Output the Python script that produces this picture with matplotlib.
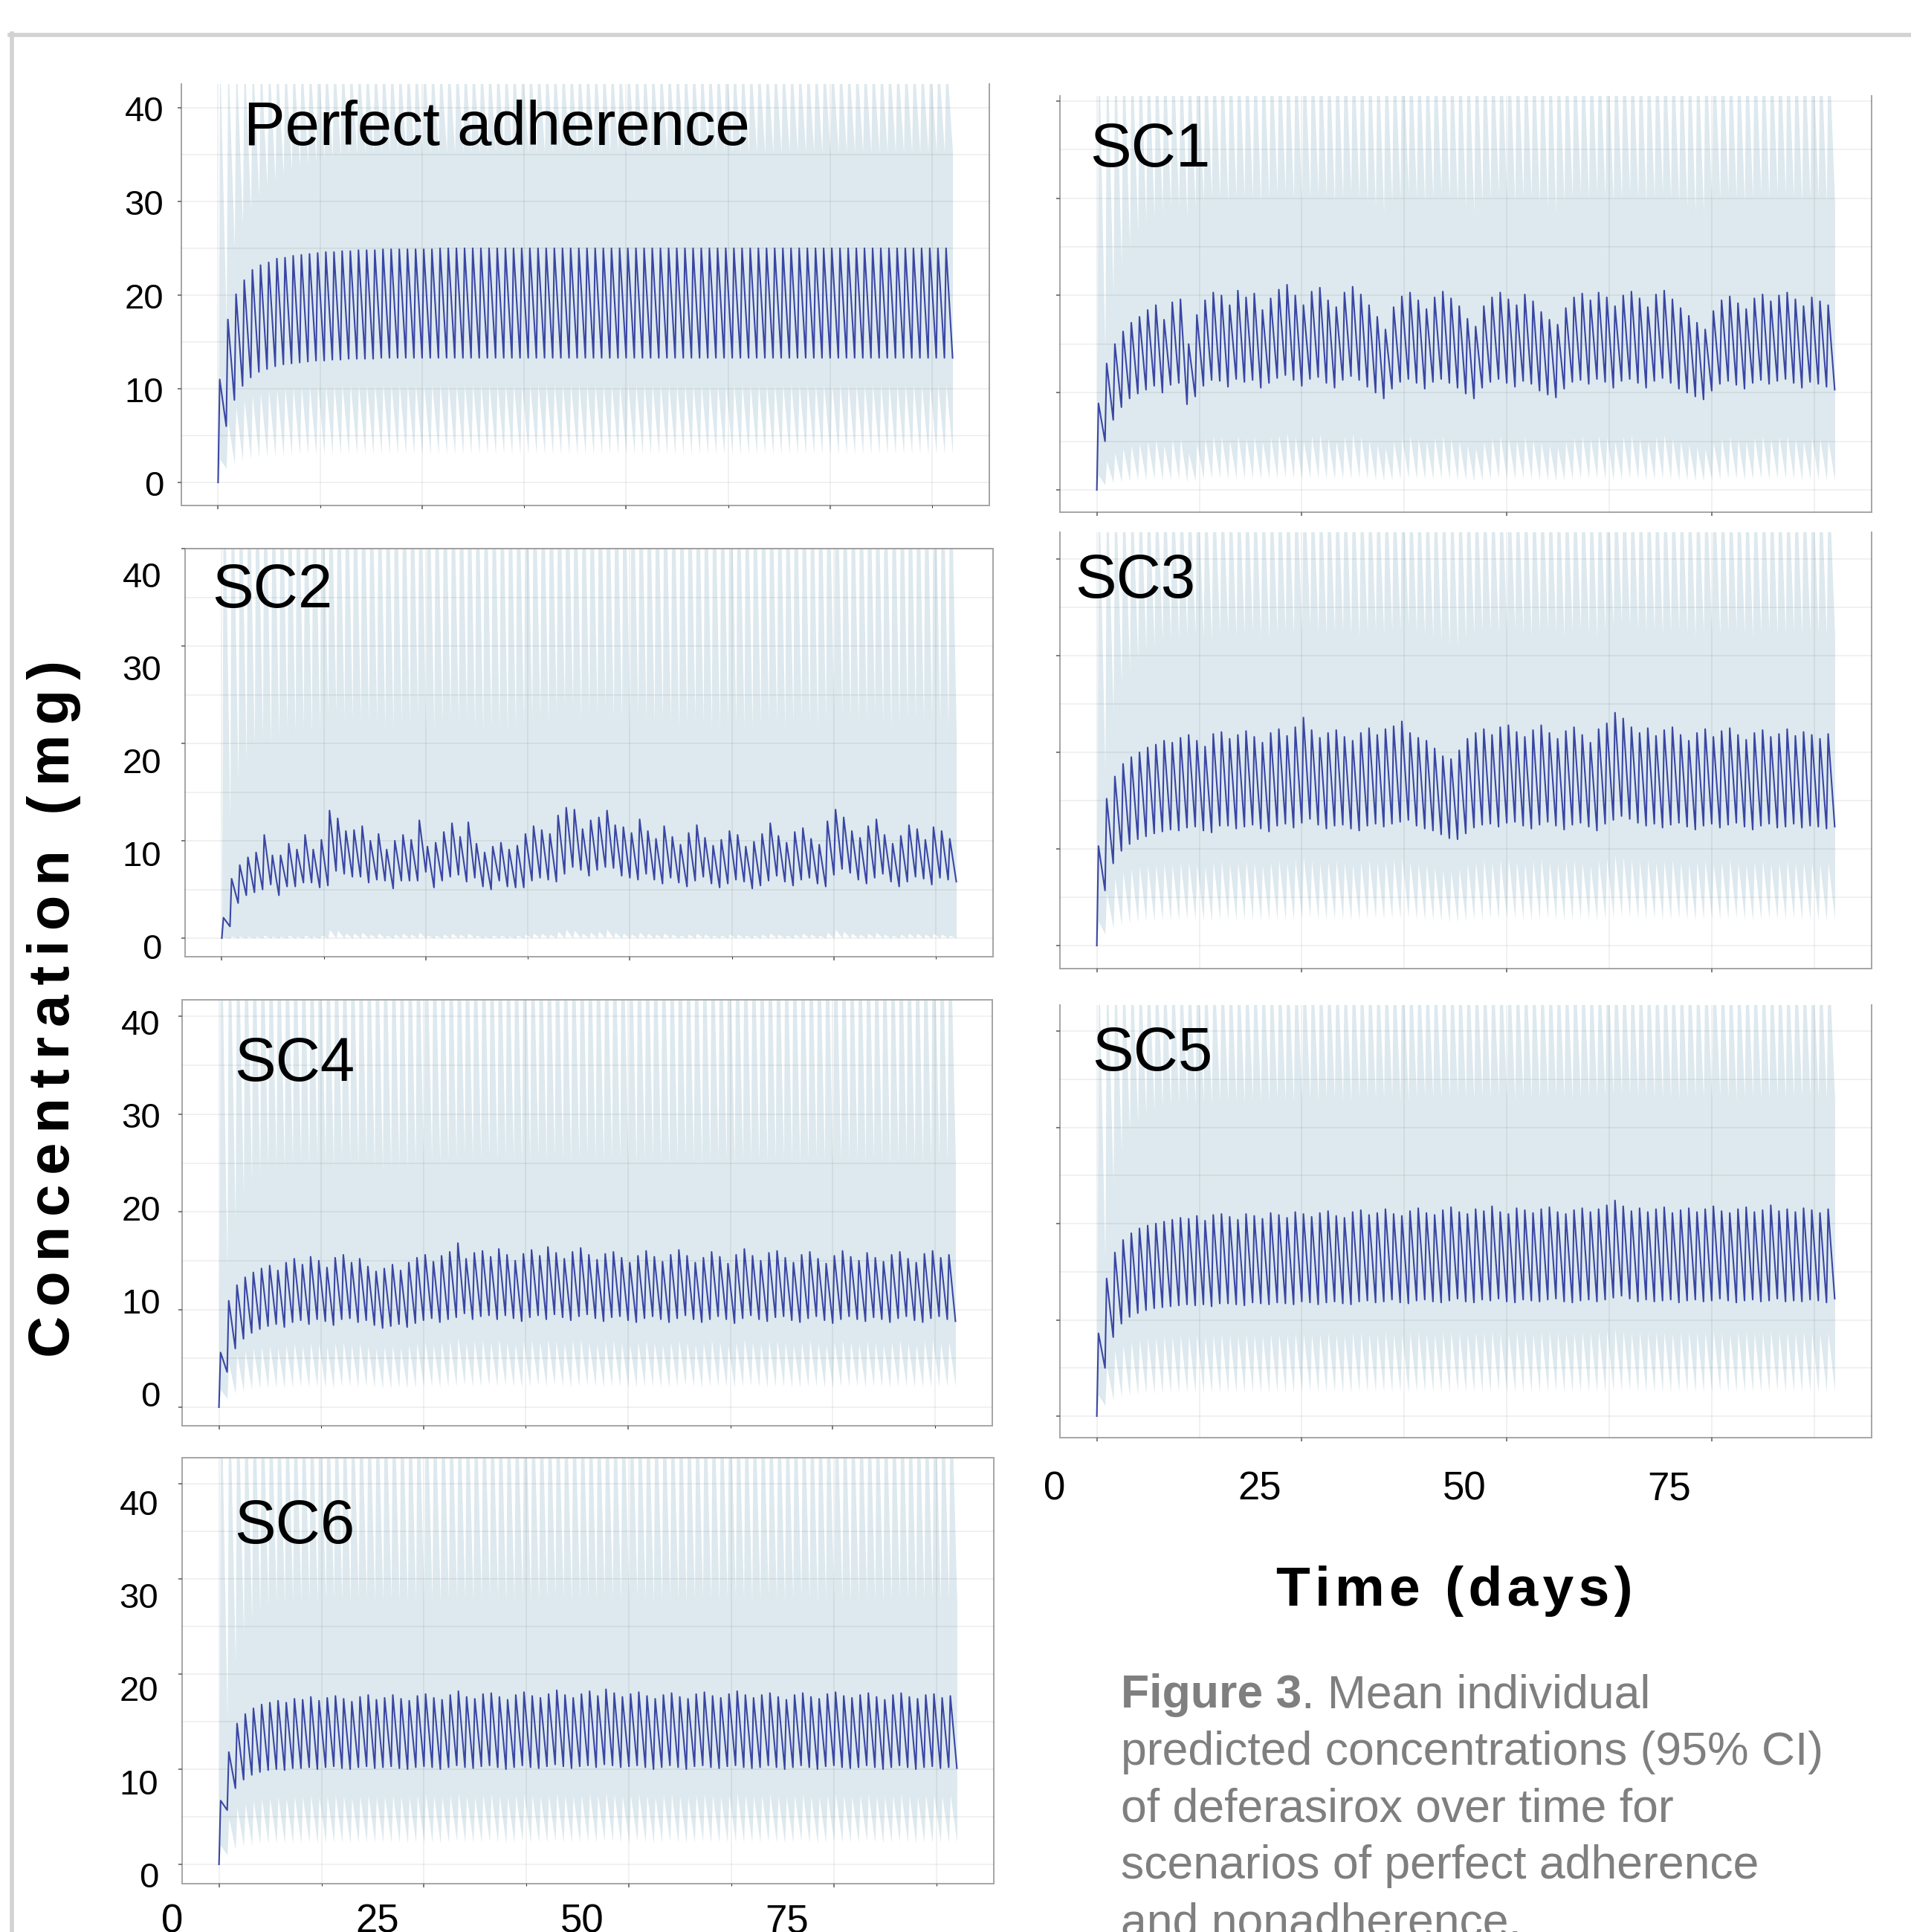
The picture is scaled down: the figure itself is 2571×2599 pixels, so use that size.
import matplotlib.pyplot as plt
import matplotlib.transforms as mtransforms
from matplotlib.lines import Line2D
from matplotlib.text import Annotation
import numpy as np

plt.rcParams['font.family'] = ['Liberation Sans', 'DejaVu Sans']

# one dose per day, 90 days; each day: trough at dose time, peak t_max later
days = np.arange(90)
t_max = 0.2

# ---- Perfect adherence ----
pa_peak = [11.0, 17.4, 20.1, 21.6, 22.7, 23.2, 23.5, 23.9, 24.0, 24.2,
           24.3, 24.4, 24.5, 24.6, 24.6, 24.7, 24.7, 24.8, 24.8, 24.8,
           24.9, 24.9, 24.9, 24.9, 24.9, 24.9, 24.9, 25.0, 25.0, 25.0,
           25.0, 25.0, 25.0, 25.0, 25.0, 25.0, 25.0, 25.0, 25.0, 25.0,
           25.0, 25.0, 25.0, 25.0, 25.0, 25.0, 25.0, 25.0, 25.0, 25.0,
           25.0, 25.0, 25.0, 25.0, 25.0, 25.0, 25.0, 25.0, 25.0, 25.0,
           25.0, 25.0, 25.0, 25.0, 25.0, 25.0, 25.0, 25.0, 25.0, 25.0,
           25.0, 25.0, 25.0, 25.0, 25.0, 25.0, 25.0, 25.0, 25.0, 25.0,
           25.0, 25.0, 25.0, 25.0, 25.0, 25.0, 25.0, 25.0, 25.0, 25.0]
pa_trough = [0.0, 6.0, 8.8, 10.3, 11.2, 11.8, 12.1, 12.4, 12.6, 12.7,
             12.8, 12.9, 13.0, 13.0, 13.1, 13.1, 13.2, 13.2, 13.2, 13.2,
             13.3, 13.3, 13.3, 13.3, 13.3, 13.3, 13.3, 13.3, 13.3, 13.3,
             13.3, 13.3, 13.3, 13.3, 13.3, 13.3, 13.3, 13.3, 13.3, 13.3,
             13.3, 13.3, 13.3, 13.3, 13.3, 13.3, 13.3, 13.3, 13.3, 13.3,
             13.3, 13.3, 13.3, 13.3, 13.3, 13.3, 13.3, 13.3, 13.3, 13.3,
             13.3, 13.3, 13.3, 13.3, 13.3, 13.3, 13.3, 13.3, 13.3, 13.3,
             13.3, 13.3, 13.3, 13.3, 13.3, 13.3, 13.3, 13.3, 13.3, 13.3,
             13.3, 13.3, 13.3, 13.3, 13.3, 13.3, 13.3, 13.3, 13.3, 13.3,
             13.3]
pa_up = [0.0, 17.0, 25.0, 27.5, 29.0, 30.5, 31.5, 32.2, 32.8, 33.3,
         33.7, 34.0, 34.3, 34.5, 34.7, 34.9, 35.0, 35.0, 35.1, 35.1,
         35.2, 35.2, 35.2, 35.2, 35.2, 35.2, 35.2, 35.2, 35.2, 35.2,
         35.2, 35.2, 35.2, 35.2, 35.2, 35.2, 35.2, 35.2, 35.2, 35.2,
         35.2, 35.2, 35.2, 35.2, 35.2, 35.2, 35.2, 35.2, 35.2, 35.2,
         35.2, 35.2, 35.2, 35.2, 35.2, 35.2, 35.2, 35.2, 35.2, 35.2,
         35.2, 35.2, 35.2, 35.2, 35.2, 35.2, 35.2, 35.2, 35.2, 35.2,
         35.2, 35.2, 35.2, 35.2, 35.2, 35.2, 35.2, 35.2, 35.2, 35.2,
         35.2, 35.2, 35.2, 35.2, 35.2, 35.2, 35.2, 35.2, 35.2, 35.2,
         35.2]
pa_up_peak = 46.0
pa_lo_peak = [2.5, 6.5, 8.0, 8.8, 9.3, 9.6, 9.8, 10.0, 10.1, 10.2,
              10.3, 10.3, 10.4, 10.4, 10.5, 10.5, 10.5, 10.5, 10.5, 10.5,
              10.5, 10.5, 10.5, 10.5, 10.5, 10.5, 10.5, 10.5, 10.5, 10.5,
              10.5, 10.5, 10.5, 10.5, 10.5, 10.5, 10.5, 10.5, 10.5, 10.5,
              10.5, 10.5, 10.5, 10.5, 10.5, 10.5, 10.5, 10.5, 10.5, 10.5,
              10.5, 10.5, 10.5, 10.5, 10.5, 10.5, 10.5, 10.5, 10.5, 10.5,
              10.5, 10.5, 10.5, 10.5, 10.5, 10.5, 10.5, 10.5, 10.5, 10.5,
              10.5, 10.5, 10.5, 10.5, 10.5, 10.5, 10.5, 10.5, 10.5, 10.5,
              10.5, 10.5, 10.5, 10.5, 10.5, 10.5, 10.5, 10.5, 10.5, 10.5]
pa_lo = [0.0, 1.5, 2.0, 2.3, 2.5, 2.6, 2.7, 2.8, 2.8, 2.9,
         2.9, 3.0, 3.0, 3.0, 3.0, 3.0, 3.0, 3.0, 3.0, 3.0,
         3.0, 3.0, 3.0, 3.0, 3.0, 3.0, 3.0, 3.0, 3.0, 3.0,
         3.0, 3.0, 3.0, 3.0, 3.0, 3.0, 3.0, 3.0, 3.0, 3.0,
         3.0, 3.0, 3.0, 3.0, 3.0, 3.0, 3.0, 3.0, 3.0, 3.0,
         3.0, 3.0, 3.0, 3.0, 3.0, 3.0, 3.0, 3.0, 3.0, 3.0,
         3.0, 3.0, 3.0, 3.0, 3.0, 3.0, 3.0, 3.0, 3.0, 3.0,
         3.0, 3.0, 3.0, 3.0, 3.0, 3.0, 3.0, 3.0, 3.0, 3.0,
         3.0, 3.0, 3.0, 3.0, 3.0, 3.0, 3.0, 3.0, 3.0, 3.0,
         3.0]

# ---- SC1 ----
sc1_peak = [8.9, 13.0, 15.0, 16.3, 17.2, 17.8, 18.5, 19.0, 17.5, 19.3,
            19.6, 15.0, 18.0, 19.5, 20.3, 20.0, 19.0, 20.5, 19.8, 20.2,
            18.5, 19.7, 20.6, 21.1, 20.0, 19.0, 20.4, 20.8, 19.5, 18.8,
            20.3, 20.9, 20.1, 19.0, 17.8, 16.5, 18.8, 19.9, 20.3, 19.5,
            18.6, 19.8, 20.4, 19.7, 18.9, 17.6, 16.8, 18.9, 19.8, 20.3,
            19.6, 19.0, 20.1, 19.4, 18.3, 17.5, 17.0, 18.7, 19.8, 20.2,
            19.5, 20.3, 19.8, 18.9, 20.0, 20.4, 19.7, 18.8, 20.1, 20.5,
            19.6, 18.7, 17.9, 17.2, 16.5, 18.4, 19.5, 19.9, 19.2, 18.6,
            19.7, 20.1, 19.4, 20.0, 20.3, 19.6, 18.9, 19.8, 19.4, 19.0]
sc1_trough = [0.0, 5.0, 7.2, 8.5, 9.4, 9.9, 10.3, 10.7, 10.0, 10.8,
              11.0, 8.8, 9.6, 10.7, 11.3, 11.2, 10.6, 11.4, 11.1, 11.3,
              10.5, 11.0, 11.5, 11.8, 11.3, 10.7, 11.4, 11.6, 11.0, 10.5,
              11.3, 11.7, 11.3, 10.6, 10.0, 9.4, 10.4, 11.1, 11.4, 11.0,
              10.4, 11.1, 11.4, 11.0, 10.5, 9.9, 9.4, 10.5, 11.1, 11.4,
              11.0, 10.6, 11.2, 10.9, 10.2, 9.8, 9.5, 10.4, 11.1, 11.3,
              10.9, 11.4, 11.1, 10.5, 11.2, 11.4, 11.0, 10.5, 11.2, 11.5,
              11.0, 10.4, 10.0, 9.6, 9.3, 10.2, 10.9, 11.2, 10.8, 10.4,
              11.0, 11.3, 10.9, 11.2, 11.4, 11.0, 10.5, 11.1, 10.9, 10.6,
              10.3]
sc1_up = [0.0, 14.0, 20.0, 23.0, 25.0, 26.5, 27.5, 28.0, 28.5, 29.0,
          29.0, 28.0, 29.0, 29.5, 30.0, 30.0, 29.5, 30.0, 30.0, 30.0,
          29.5, 30.0, 30.5, 30.5, 30.0, 29.5, 30.0, 30.5, 30.0, 29.5,
          30.0, 30.5, 30.0, 29.5, 29.0, 28.5, 29.5, 30.0, 30.5, 30.0,
          29.5, 30.0, 30.5, 30.0, 29.5, 29.0, 28.5, 29.5, 30.0, 30.5,
          30.0, 29.5, 30.0, 30.0, 29.5, 29.0, 28.5, 29.5, 30.0, 30.5,
          30.0, 30.5, 30.0, 29.5, 30.0, 30.5, 30.0, 29.5, 30.0, 30.5,
          30.0, 29.5, 29.0, 28.5, 28.5, 29.5, 30.0, 30.5, 30.0, 29.5,
          30.0, 30.5, 30.0, 30.5, 30.5, 30.0, 29.5, 30.0, 30.0, 29.5,
          29.5]
sc1_up_peak = 47.5
sc1_lo_peak = [1.5, 3.0, 3.8, 4.3, 4.6, 4.8, 5.0, 5.2, 4.6, 5.2,
               5.3, 3.8, 4.8, 5.3, 5.6, 5.5, 5.1, 5.6, 5.4, 5.5,
               5.0, 5.4, 5.7, 5.9, 5.5, 5.1, 5.6, 5.7, 5.3, 5.0,
               5.5, 5.8, 5.5, 5.1, 4.7, 4.3, 5.0, 5.4, 5.6, 5.3,
               5.0, 5.4, 5.6, 5.3, 5.0, 4.6, 4.3, 5.0, 5.4, 5.6,
               5.3, 5.1, 5.5, 5.2, 4.9, 4.6, 4.4, 5.0, 5.4, 5.6,
               5.3, 5.6, 5.4, 5.0, 5.5, 5.6, 5.3, 5.0, 5.5, 5.7,
               5.3, 5.0, 4.7, 4.4, 4.2, 4.9, 5.3, 5.5, 5.2, 5.0,
               5.4, 5.6, 5.3, 5.5, 5.6, 5.3, 5.0, 5.4, 5.3, 5.1]
sc1_lo = [0.0, 0.5, 0.7, 0.8, 0.9, 1.0, 1.0, 1.1, 1.0, 1.1,
          1.1, 0.8, 0.9, 1.1, 1.2, 1.2, 1.1, 1.2, 1.2, 1.2,
          1.1, 1.2, 1.2, 1.3, 1.2, 1.1, 1.2, 1.2, 1.1, 1.1,
          1.2, 1.2, 1.2, 1.1, 1.0, 0.9, 1.0, 1.1, 1.2, 1.1,
          1.1, 1.1, 1.2, 1.1, 1.0, 1.0, 0.9, 1.0, 1.1, 1.2,
          1.1, 1.1, 1.2, 1.1, 1.0, 1.0, 0.9, 1.0, 1.1, 1.2,
          1.1, 1.2, 1.1, 1.0, 1.1, 1.2, 1.1, 1.0, 1.1, 1.2,
          1.1, 1.0, 1.0, 0.9, 0.9, 1.0, 1.1, 1.2, 1.1, 1.0,
          1.1, 1.2, 1.1, 1.2, 1.2, 1.1, 1.0, 1.1, 1.1, 1.0,
          1.0]

# ---- SC2 ----
sc2_peak = [2.1, 6.1, 7.5, 8.3, 8.8, 10.6, 8.5, 8.5, 9.7, 9.1,
            10.6, 9.1, 10.1, 13.1, 12.3, 11.0, 11.1, 11.5, 10.0, 10.7,
            9.1, 10.0, 10.6, 10.1, 12.1, 9.4, 9.8, 10.9, 11.8, 10.4,
            11.9, 9.7, 8.8, 9.4, 9.8, 9.1, 9.5, 10.7, 11.5, 11.1,
            10.7, 12.6, 13.4, 13.2, 11.2, 12.1, 12.4, 13.1, 11.6, 11.4,
            10.8, 12.2, 11.0, 10.2, 11.5, 10.4, 9.6, 10.8, 11.6, 10.3,
            9.5, 10.1, 11.0, 10.6, 9.4, 9.9, 10.7, 11.8, 10.5, 9.8,
            10.9, 11.3, 10.2, 9.6, 12.0, 13.2, 12.4, 11.0, 10.3, 11.5,
            12.2, 10.6, 9.7, 10.5, 11.6, 11.2, 10.1, 11.4, 11.0, 10.2]
sc2_trough = [0.0, 1.2, 3.6, 4.4, 4.7, 5.0, 5.5, 4.4, 5.3, 5.3,
              5.7, 5.7, 5.2, 5.4, 6.9, 6.6, 6.3, 6.3, 5.7, 6.0,
              5.9, 5.1, 5.9, 5.9, 5.9, 6.8, 5.2, 5.9, 6.3, 6.5,
              5.8, 6.2, 5.3, 5.0, 5.9, 5.3, 5.2, 5.2, 5.9, 6.2,
              6.0, 5.8, 6.6, 7.3, 7.0, 6.4, 7.0, 7.3, 7.2, 6.4,
              6.2, 6.0, 6.6, 6.0, 5.6, 6.2, 5.7, 5.3, 5.9, 6.3,
              5.6, 5.2, 5.6, 6.0, 5.8, 5.1, 5.4, 5.9, 6.4, 5.8,
              5.4, 6.0, 6.2, 5.6, 5.3, 6.5, 7.1, 6.7, 6.0, 5.6,
              6.2, 6.6, 5.8, 5.3, 5.8, 6.3, 6.1, 5.5, 6.2, 6.0,
              5.8]
sc2_up = [0.0, 12.0, 16.0, 18.0, 19.5, 20.5, 20.0, 20.5, 21.5, 21.0,
          21.5, 21.0, 21.5, 23.0, 23.0, 22.5, 22.5, 22.5, 22.0, 22.0,
          21.5, 21.5, 22.0, 22.0, 23.0, 21.5, 21.5, 22.0, 22.5, 22.0,
          22.5, 21.5, 21.0, 21.5, 21.5, 21.0, 21.5, 22.0, 22.5, 22.5,
          22.0, 23.0, 23.5, 23.5, 22.5, 23.0, 23.0, 23.5, 22.5, 22.5,
          22.0, 23.0, 22.5, 22.0, 22.5, 22.0, 21.5, 22.0, 22.5, 22.0,
          21.5, 21.5, 22.0, 22.0, 21.5, 21.5, 22.0, 22.5, 22.0, 21.5,
          22.0, 22.5, 22.0, 21.5, 22.5, 23.5, 23.0, 22.5, 22.0, 22.5,
          23.0, 22.0, 21.5, 22.0, 22.5, 22.5, 22.0, 22.5, 22.0, 21.5,
          21.0]
sc2_up_peak = 55.0
sc2_lo_peak = [0.1, 0.2, 0.2, 0.2, 0.2, 0.3, 0.2, 0.2, 0.3, 0.2,
               0.3, 0.2, 0.3, 0.9, 0.8, 0.5, 0.5, 0.6, 0.4, 0.5,
               0.3, 0.4, 0.5, 0.4, 0.6, 0.3, 0.3, 0.4, 0.5, 0.4,
               0.5, 0.3, 0.2, 0.3, 0.3, 0.2, 0.3, 0.4, 0.5, 0.5,
               0.4, 0.7, 0.9, 0.8, 0.5, 0.6, 0.7, 0.9, 0.6, 0.5,
               0.4, 0.6, 0.5, 0.4, 0.5, 0.4, 0.3, 0.4, 0.5, 0.4,
               0.3, 0.3, 0.4, 0.4, 0.3, 0.3, 0.4, 0.5, 0.4, 0.3,
               0.4, 0.5, 0.4, 0.3, 0.6, 0.9, 0.7, 0.5, 0.4, 0.5,
               0.6, 0.4, 0.3, 0.4, 0.5, 0.5, 0.4, 0.5, 0.4, 0.3]
sc2_lo = [0.0, 0.0, 0.0, 0.0, 0.0, 0.0, 0.0, 0.0, 0.0, 0.0,
          0.0, 0.0, 0.0, 0.0, 0.0, 0.0, 0.0, 0.0, 0.0, 0.0,
          0.0, 0.0, 0.0, 0.0, 0.0, 0.0, 0.0, 0.0, 0.0, 0.0,
          0.0, 0.0, 0.0, 0.0, 0.0, 0.0, 0.0, 0.0, 0.0, 0.0,
          0.0, 0.0, 0.0, 0.0, 0.0, 0.0, 0.0, 0.0, 0.0, 0.0,
          0.0, 0.0, 0.0, 0.0, 0.0, 0.0, 0.0, 0.0, 0.0, 0.0,
          0.0, 0.0, 0.0, 0.0, 0.0, 0.0, 0.0, 0.0, 0.0, 0.0,
          0.0, 0.0, 0.0, 0.0, 0.0, 0.0, 0.0, 0.0, 0.0, 0.0,
          0.0, 0.0, 0.0, 0.0, 0.0, 0.0, 0.0, 0.0, 0.0, 0.0,
          0.0]

# ---- SC3 ----
sc3_peak = [10.3, 15.2, 17.5, 18.8, 19.5, 20.0, 20.5, 20.8, 21.2, 21.0,
            21.5, 21.8, 21.2, 20.6, 21.9, 22.1, 21.4, 21.8, 22.2, 21.6,
            21.0, 22.0, 22.4, 21.7, 22.6, 23.6, 22.3, 21.5, 22.0, 22.3,
            21.6, 21.2, 22.0, 22.5, 21.8, 22.4, 22.7, 23.2, 22.0, 21.5,
            21.2, 20.4, 19.6, 19.3, 20.2, 21.4, 22.0, 22.4, 21.8, 22.6,
            22.8, 22.1, 21.6, 22.3, 22.8, 22.0, 21.4, 22.2, 22.6, 21.8,
            21.0, 22.4, 23.0, 24.1, 23.5, 22.6, 22.0, 22.5, 21.7, 22.3,
            22.6, 21.8, 21.2, 22.0, 22.4, 21.6, 22.2, 22.5, 21.8, 21.3,
            22.0, 22.3, 21.6, 21.9, 22.4, 21.7, 22.1, 21.8, 21.4, 21.9]
sc3_trough = [0.0, 5.7, 8.5, 9.8, 10.5, 11.0, 11.3, 11.6, 11.8, 12.0,
              11.9, 12.2, 12.3, 11.9, 11.7, 12.4, 12.4, 12.1, 12.3, 12.5,
              12.1, 11.8, 12.4, 12.6, 12.2, 12.7, 13.1, 12.5, 12.1, 12.4,
              12.5, 12.1, 11.9, 12.4, 12.6, 12.3, 12.6, 12.8, 13.0, 12.4,
              12.1, 11.9, 11.5, 11.1, 11.0, 11.6, 12.2, 12.5, 12.6, 12.3,
              12.7, 12.8, 12.4, 12.1, 12.5, 12.8, 12.4, 12.0, 12.5, 12.7,
              12.3, 11.9, 12.6, 13.0, 13.4, 13.1, 12.7, 12.4, 12.6, 12.2,
              12.5, 12.7, 12.3, 12.0, 12.4, 12.6, 12.2, 12.5, 12.7, 12.3,
              12.0, 12.4, 12.6, 12.2, 12.3, 12.6, 12.2, 12.4, 12.3, 12.1,
              12.3]
sc3_up = [0.0, 18.0, 24.0, 27.0, 28.5, 29.5, 30.5, 31.0, 31.5, 31.8,
          31.7, 32.0, 32.2, 31.8, 31.5, 32.3, 32.3, 32.0, 32.2, 32.4,
          32.0, 31.7, 32.3, 32.5, 32.1, 32.6, 33.0, 32.4, 32.0, 32.3,
          32.4, 32.0, 31.8, 32.3, 32.5, 32.2, 32.5, 32.7, 32.9, 32.3,
          32.0, 31.8, 31.4, 31.0, 30.9, 31.5, 32.1, 32.4, 32.5, 32.2,
          32.6, 32.7, 32.3, 32.0, 32.4, 32.7, 32.3, 31.9, 32.4, 32.6,
          32.2, 31.8, 32.5, 32.9, 33.3, 33.0, 32.6, 32.3, 32.5, 32.1,
          32.4, 32.6, 32.2, 31.9, 32.3, 32.5, 32.1, 32.4, 32.6, 32.2,
          31.9, 32.3, 32.5, 32.1, 32.2, 32.5, 32.1, 32.3, 32.2, 32.0,
          32.2]
sc3_up_peak = 50.0
sc3_lo_peak = [2.5, 5.5, 7.0, 7.6, 8.0, 8.2, 8.3, 8.4, 8.5, 8.4,
               8.6, 8.7, 8.4, 8.2, 8.7, 8.8, 8.5, 8.7, 8.8, 8.6,
               8.3, 8.7, 8.9, 8.6, 8.9, 9.2, 8.8, 8.5, 8.7, 8.8,
               8.6, 8.4, 8.7, 8.9, 8.6, 8.8, 9.0, 9.1, 8.7, 8.5,
               8.4, 8.1, 7.8, 7.7, 8.0, 8.5, 8.7, 8.9, 8.6, 8.9,
               9.0, 8.7, 8.5, 8.8, 9.0, 8.7, 8.5, 8.8, 8.9, 8.6,
               8.3, 8.8, 9.0, 9.4, 9.2, 8.9, 8.7, 8.9, 8.6, 8.8,
               8.9, 8.6, 8.4, 8.7, 8.8, 8.5, 8.7, 8.9, 8.6, 8.4,
               8.7, 8.8, 8.5, 8.6, 8.8, 8.6, 8.7, 8.6, 8.4, 8.6]
sc3_lo = [0.0, 1.2, 1.8, 2.1, 2.3, 2.4, 2.5, 2.5, 2.6, 2.6,
          2.6, 2.7, 2.7, 2.6, 2.5, 2.7, 2.7, 2.6, 2.7, 2.7,
          2.6, 2.6, 2.7, 2.7, 2.7, 2.8, 2.9, 2.7, 2.6, 2.7,
          2.7, 2.6, 2.6, 2.7, 2.8, 2.7, 2.8, 2.8, 2.9, 2.7,
          2.6, 2.6, 2.5, 2.4, 2.4, 2.5, 2.7, 2.7, 2.8, 2.7,
          2.8, 2.8, 2.7, 2.6, 2.7, 2.8, 2.7, 2.6, 2.7, 2.8,
          2.7, 2.6, 2.8, 2.9, 3.0, 2.9, 2.8, 2.7, 2.8, 2.7,
          2.7, 2.8, 2.7, 2.6, 2.7, 2.8, 2.7, 2.7, 2.8, 2.7,
          2.6, 2.7, 2.8, 2.7, 2.7, 2.8, 2.7, 2.7, 2.7, 2.6,
          2.7]

# ---- SC4 ----
sc4_peak = [5.6, 10.9, 12.5, 13.3, 13.8, 14.2, 14.5, 14.0, 14.8, 15.2,
            14.6, 15.4, 15.0, 14.3, 15.3, 15.6, 14.8, 15.2, 14.4, 13.9,
            14.2, 14.6, 14.0, 14.8, 15.3, 15.6, 14.9, 15.5, 15.9, 16.8,
            15.2, 15.8, 16.0, 15.4, 16.2, 15.6, 15.0, 15.7, 16.1, 15.5,
            16.4, 15.8, 15.2, 15.9, 16.3, 15.6, 15.1, 15.7, 15.9, 15.3,
            14.8, 15.5, 16.0, 15.4, 14.9, 15.6, 16.1, 15.5, 14.8, 15.3,
            15.9, 15.4, 14.7, 15.6, 16.2, 15.5, 15.0, 15.8, 16.0, 15.3,
            14.8, 15.6, 15.9, 15.2, 14.7, 15.5, 16.0, 15.4, 15.0, 15.8,
            15.3, 14.9, 15.6, 15.9, 15.2, 14.8, 15.7, 16.0, 15.3, 15.6]
sc4_trough = [0.0, 3.6, 6.0, 7.0, 7.6, 8.0, 8.3, 8.5, 8.2, 8.7,
              8.9, 8.5, 9.0, 8.8, 8.4, 9.0, 9.1, 8.7, 8.9, 8.4,
              8.1, 8.3, 8.5, 8.2, 8.6, 8.9, 9.1, 8.7, 9.0, 9.2,
              9.6, 9.0, 9.3, 9.4, 9.0, 9.4, 9.1, 8.8, 9.2, 9.4,
              9.0, 9.5, 9.2, 8.9, 9.3, 9.5, 9.1, 8.8, 9.2, 9.3,
              8.9, 8.7, 9.1, 9.3, 9.0, 8.7, 9.1, 9.4, 9.0, 8.7,
              9.0, 9.3, 9.0, 8.6, 9.1, 9.4, 9.0, 8.8, 9.2, 9.3,
              8.9, 8.7, 9.1, 9.3, 8.9, 8.6, 9.0, 9.3, 9.0, 8.8,
              9.2, 9.0, 8.7, 9.1, 9.3, 8.9, 8.7, 9.1, 9.3, 9.0,
              8.8]
sc4_up = [0.0, 14.0, 19.0, 21.5, 23.0, 23.8, 24.3, 24.6, 24.2, 24.8,
          25.0, 24.6, 25.1, 24.9, 24.4, 25.1, 25.2, 24.8, 25.0, 24.5,
          24.1, 24.4, 24.6, 24.2, 24.7, 25.0, 25.2, 24.8, 25.1, 25.4,
          25.8, 25.1, 25.4, 25.5, 25.1, 25.5, 25.2, 24.9, 25.3, 25.5,
          25.1, 25.6, 25.3, 25.0, 25.4, 25.6, 25.2, 24.9, 25.3, 25.4,
          25.0, 24.8, 25.2, 25.4, 25.1, 24.8, 25.2, 25.5, 25.1, 24.8,
          25.1, 25.4, 25.1, 24.7, 25.2, 25.5, 25.1, 24.9, 25.3, 25.4,
          25.0, 24.8, 25.2, 25.4, 25.0, 24.7, 25.1, 25.4, 25.1, 24.9,
          25.3, 25.1, 24.8, 25.2, 25.4, 25.0, 24.8, 25.2, 25.4, 25.1,
          25.1]
sc4_up_peak = 55.0
sc4_lo_peak = [1.8, 4.5, 5.4, 5.8, 6.0, 6.2, 6.3, 6.1, 6.4, 6.6,
               6.3, 6.6, 6.5, 6.2, 6.6, 6.7, 6.4, 6.6, 6.3, 6.0,
               6.2, 6.3, 6.1, 6.4, 6.6, 6.7, 6.4, 6.7, 6.8, 7.2,
               6.6, 6.8, 6.9, 6.7, 7.0, 6.7, 6.5, 6.8, 6.9, 6.7,
               7.0, 6.8, 6.6, 6.9, 7.0, 6.7, 6.5, 6.8, 6.9, 6.6,
               6.4, 6.7, 6.9, 6.7, 6.4, 6.7, 6.9, 6.7, 6.4, 6.6,
               6.9, 6.7, 6.4, 6.7, 7.0, 6.7, 6.5, 6.8, 6.9, 6.6,
               6.4, 6.7, 6.9, 6.6, 6.4, 6.7, 6.9, 6.7, 6.5, 6.8,
               6.6, 6.4, 6.7, 6.9, 6.6, 6.4, 6.8, 6.9, 6.6, 6.7]
sc4_lo = [0.0, 0.9, 1.4, 1.6, 1.8, 1.9, 1.9, 2.0, 1.9, 2.0,
          2.1, 2.0, 2.1, 2.0, 1.9, 2.1, 2.1, 2.0, 2.1, 2.0,
          1.9, 1.9, 2.0, 1.9, 2.0, 2.1, 2.1, 2.0, 2.1, 2.1,
          2.2, 2.1, 2.1, 2.2, 2.1, 2.2, 2.1, 2.0, 2.1, 2.2,
          2.1, 2.2, 2.1, 2.0, 2.1, 2.2, 2.1, 2.0, 2.1, 2.1,
          2.0, 2.0, 2.1, 2.1, 2.0, 2.0, 2.1, 2.2, 2.1, 2.0,
          2.1, 2.1, 2.1, 2.0, 2.1, 2.2, 2.1, 2.0, 2.1, 2.1,
          2.0, 2.0, 2.1, 2.1, 2.0, 2.0, 2.1, 2.1, 2.1, 2.0,
          2.1, 2.1, 2.0, 2.1, 2.1, 2.0, 2.0, 2.1, 2.1, 2.1,
          2.1]

# ---- SC5 ----
sc5_peak = [8.6, 14.3, 17.0, 18.3, 19.0, 19.5, 19.8, 20.0, 20.2, 20.4,
            20.6, 20.5, 20.8, 20.3, 20.9, 21.0, 20.7, 20.4, 21.0, 20.8,
            20.5, 21.1, 20.9, 20.6, 21.2, 21.0, 20.7, 21.1, 21.3, 20.8,
            20.6, 21.2, 21.4, 20.9, 21.1, 21.5, 21.0, 20.8, 21.3, 21.6,
            21.1, 20.9, 21.4, 21.7, 21.2, 21.0, 21.5, 21.3, 21.8, 21.2,
            21.0, 21.6, 21.4, 21.1, 21.5, 21.7, 21.2, 21.0, 21.4, 21.6,
            21.2, 21.5, 21.9, 22.4, 21.8, 21.3, 21.6, 21.2, 21.5, 21.7,
            21.1, 21.4, 21.6, 21.2, 21.5, 21.8, 21.3, 21.1, 21.5, 21.7,
            21.2, 21.4, 21.9, 21.3, 21.5, 21.2, 21.6, 21.4, 21.1, 21.5]
sc5_trough = [0.0, 5.0, 8.2, 9.6, 10.3, 10.7, 11.0, 11.2, 11.3, 11.4,
              11.5, 11.6, 11.5, 11.6, 11.4, 11.7, 11.7, 11.6, 11.5, 11.8,
              11.7, 11.6, 11.8, 11.7, 11.6, 11.9, 11.8, 11.6, 11.8, 11.9,
              11.7, 11.6, 11.9, 12.0, 11.8, 11.9, 12.1, 11.8, 11.7, 12.0,
              12.1, 11.9, 11.8, 12.0, 12.2, 11.9, 11.8, 12.1, 12.0, 12.2,
              11.9, 11.8, 12.1, 12.0, 11.9, 12.1, 12.2, 11.9, 11.8, 12.0,
              12.1, 11.9, 12.1, 12.3, 12.5, 12.2, 11.9, 12.1, 11.9, 12.0,
              12.1, 11.8, 12.0, 12.1, 11.9, 12.0, 12.2, 12.0, 11.8, 12.0,
              12.1, 11.9, 12.0, 12.2, 11.9, 12.0, 11.9, 12.1, 12.0, 11.8,
              12.2]
sc5_up = [0.0, 16.0, 24.0, 27.5, 29.5, 30.5, 31.2, 31.7, 32.0, 32.2,
          32.4, 32.5, 32.4, 32.6, 32.3, 32.7, 32.7, 32.6, 32.4, 32.8,
          32.7, 32.6, 32.8, 32.7, 32.6, 32.9, 32.8, 32.6, 32.8, 32.9,
          32.7, 32.6, 32.9, 33.0, 32.8, 32.9, 33.1, 32.8, 32.7, 33.0,
          33.1, 32.9, 32.8, 33.0, 33.2, 32.9, 32.8, 33.1, 33.0, 33.2,
          32.9, 32.8, 33.1, 33.0, 32.9, 33.1, 33.2, 32.9, 32.8, 33.0,
          33.1, 32.9, 33.1, 33.3, 33.5, 33.2, 32.9, 33.1, 32.9, 33.0,
          33.1, 32.8, 33.0, 33.1, 32.9, 33.0, 33.2, 33.0, 32.8, 33.0,
          33.1, 32.9, 33.0, 33.2, 32.9, 33.0, 32.9, 33.1, 33.0, 32.8,
          32.9]
sc5_up_peak = 49.0
sc5_lo_peak = [2.2, 5.2, 6.8, 7.4, 7.8, 8.0, 8.1, 8.2, 8.3, 8.3,
               8.4, 8.4, 8.5, 8.3, 8.5, 8.6, 8.5, 8.4, 8.6, 8.5,
               8.4, 8.6, 8.6, 8.5, 8.7, 8.6, 8.5, 8.6, 8.7, 8.5,
               8.4, 8.7, 8.7, 8.6, 8.6, 8.8, 8.6, 8.5, 8.7, 8.8,
               8.6, 8.5, 8.7, 8.8, 8.7, 8.6, 8.8, 8.7, 8.9, 8.7,
               8.6, 8.8, 8.7, 8.6, 8.8, 8.8, 8.7, 8.6, 8.7, 8.8,
               8.7, 8.8, 8.9, 9.1, 8.9, 8.7, 8.8, 8.7, 8.8, 8.8,
               8.6, 8.7, 8.8, 8.7, 8.8, 8.9, 8.7, 8.6, 8.8, 8.8,
               8.7, 8.7, 8.9, 8.7, 8.8, 8.7, 8.8, 8.7, 8.6, 8.7]
sc5_lo = [0.0, 1.1, 1.7, 2.0, 2.1, 2.2, 2.3, 2.3, 2.3, 2.4,
          2.4, 2.4, 2.4, 2.4, 2.4, 2.4, 2.4, 2.4, 2.4, 2.5,
          2.4, 2.4, 2.5, 2.4, 2.4, 2.5, 2.5, 2.4, 2.5, 2.5,
          2.4, 2.4, 2.5, 2.5, 2.5, 2.5, 2.5, 2.5, 2.4, 2.5,
          2.5, 2.5, 2.5, 2.5, 2.6, 2.5, 2.5, 2.5, 2.5, 2.6,
          2.5, 2.5, 2.5, 2.5, 2.5, 2.5, 2.6, 2.5, 2.5, 2.5,
          2.5, 2.5, 2.5, 2.6, 2.6, 2.6, 2.5, 2.5, 2.5, 2.5,
          2.5, 2.5, 2.5, 2.5, 2.5, 2.5, 2.6, 2.5, 2.5, 2.5,
          2.5, 2.5, 2.5, 2.6, 2.5, 2.5, 2.5, 2.5, 2.5, 2.5,
          2.5]

# ---- SC6 ----
sc6_peak = [6.7, 11.8, 14.8, 15.8, 16.4, 16.8, 17.0, 17.2, 17.0, 17.4,
            17.3, 17.6, 17.2, 17.5, 17.7, 17.4, 17.1, 17.6, 17.8, 17.3,
            17.5, 17.8, 17.4, 17.2, 17.7, 17.9, 17.5, 17.3, 17.8, 18.2,
            17.6, 17.4, 17.9, 18.0, 17.6, 17.3, 17.8, 18.1, 17.7, 17.5,
            17.9, 18.3, 17.8, 17.5, 17.9, 18.2, 17.7, 18.4, 18.0, 17.6,
            17.9, 18.1, 17.7, 17.4, 17.8, 18.0, 17.6, 17.4, 17.9, 18.1,
            17.7, 17.5, 17.9, 18.2, 17.8, 17.5, 17.8, 18.0, 17.6, 17.3,
            17.8, 18.0, 17.6, 17.4, 17.9, 18.1, 17.7, 17.5, 17.8, 18.0,
            17.6, 17.3, 17.8, 18.0, 17.6, 17.4, 17.8, 17.9, 17.5, 17.7]
sc6_trough = [0.0, 5.7, 8.0, 8.9, 9.4, 9.7, 9.9, 10.0, 9.9, 10.1,
              10.1, 10.2, 10.0, 10.2, 10.3, 10.1, 10.0, 10.2, 10.3, 10.1,
              10.2, 10.3, 10.1, 10.0, 10.2, 10.3, 10.2, 10.0, 10.2, 10.4,
              10.2, 10.1, 10.3, 10.4, 10.2, 10.0, 10.2, 10.4, 10.2, 10.1,
              10.3, 10.5, 10.3, 10.1, 10.3, 10.4, 10.2, 10.5, 10.4, 10.2,
              10.3, 10.4, 10.2, 10.0, 10.2, 10.4, 10.2, 10.0, 10.3, 10.4,
              10.2, 10.1, 10.3, 10.4, 10.2, 10.1, 10.2, 10.4, 10.2, 10.0,
              10.2, 10.4, 10.2, 10.0, 10.3, 10.4, 10.2, 10.1, 10.2, 10.4,
              10.2, 10.0, 10.2, 10.4, 10.2, 10.0, 10.2, 10.3, 10.1, 10.2,
              10.1]
sc6_up = [0.0, 15.0, 21.0, 24.0, 25.5, 26.5, 27.0, 27.3, 27.2, 27.5,
          27.5, 27.7, 27.4, 27.7, 27.8, 27.6, 27.4, 27.7, 27.8, 27.5,
          27.6, 27.8, 27.5, 27.4, 27.7, 27.8, 27.7, 27.4, 27.7, 28.0,
          27.7, 27.5, 27.8, 28.0, 27.7, 27.4, 27.7, 28.0, 27.7, 27.5,
          27.8, 28.1, 27.8, 27.5, 27.8, 28.0, 27.7, 28.1, 28.0, 27.7,
          27.8, 28.0, 27.7, 27.4, 27.7, 28.0, 27.7, 27.4, 27.8, 28.0,
          27.7, 27.5, 27.8, 28.0, 27.7, 27.5, 27.7, 28.0, 27.7, 27.4,
          27.7, 28.0, 27.7, 27.4, 27.8, 28.0, 27.7, 27.5, 27.7, 28.0,
          27.7, 27.4, 27.7, 28.0, 27.7, 27.4, 27.7, 27.8, 27.6, 27.7,
          27.6]
sc6_up_peak = 53.5
sc6_lo_peak = [2.0, 4.8, 6.0, 6.4, 6.7, 6.9, 7.0, 7.1, 7.0, 7.2,
               7.1, 7.3, 7.1, 7.2, 7.3, 7.2, 7.0, 7.2, 7.3, 7.1,
               7.2, 7.3, 7.2, 7.1, 7.3, 7.4, 7.2, 7.1, 7.3, 7.5,
               7.2, 7.1, 7.3, 7.4, 7.2, 7.1, 7.3, 7.4, 7.3, 7.2,
               7.3, 7.5, 7.3, 7.2, 7.3, 7.5, 7.3, 7.6, 7.4, 7.2,
               7.3, 7.4, 7.3, 7.1, 7.3, 7.4, 7.2, 7.1, 7.3, 7.4,
               7.3, 7.2, 7.3, 7.5, 7.3, 7.2, 7.3, 7.4, 7.2, 7.1,
               7.3, 7.4, 7.2, 7.1, 7.3, 7.4, 7.3, 7.2, 7.3, 7.4,
               7.2, 7.1, 7.3, 7.4, 7.2, 7.1, 7.3, 7.3, 7.2, 7.3]
sc6_lo = [0.0, 1.0, 1.6, 1.9, 2.0, 2.1, 2.2, 2.2, 2.2, 2.2,
          2.2, 2.3, 2.2, 2.3, 2.3, 2.3, 2.2, 2.3, 2.3, 2.3,
          2.3, 2.3, 2.3, 2.2, 2.3, 2.3, 2.3, 2.2, 2.3, 2.4,
          2.3, 2.3, 2.3, 2.4, 2.3, 2.2, 2.3, 2.4, 2.3, 2.3,
          2.3, 2.4, 2.3, 2.3, 2.3, 2.4, 2.3, 2.4, 2.4, 2.3,
          2.3, 2.4, 2.3, 2.2, 2.3, 2.4, 2.3, 2.2, 2.3, 2.4,
          2.3, 2.3, 2.3, 2.4, 2.3, 2.3, 2.3, 2.4, 2.3, 2.2,
          2.3, 2.4, 2.3, 2.2, 2.3, 2.4, 2.3, 2.3, 2.3, 2.4,
          2.3, 2.2, 2.3, 2.4, 2.3, 2.2, 2.3, 2.3, 2.3, 2.3,
          2.3]

y_ticks = [0, 10, 20, 30, 40]
x_ticks = [0, 25, 50, 75]

W, H = 2571, 2599
fig = plt.figure(figsize=(W / 100, H / 100), dpi=100)

band_color = '#dde9ee'
line_color = '#3a46a3'
spine_color = '#a5a5a5'


def sawtooth(trough, peak):
    t, y = [], []
    for d in days:
        p = peak[d] if np.ndim(peak) else peak
        t += [d, d + t_max]
        y += [trough[d], p]
    t.append(len(days))
    y.append(trough[len(days)])
    return t, y


def px_rect(l, t, r, b):
    return [l / W, 1 - b / H, (r - l) / W, (b - t) / H]


# name, data, frame (l, t, r, b) px, y=0 px row, px per unit, title (x, baseline) px,
# top spine, y-label placement (0 row px, px per unit, pad pt) or None
panels = [
    ('Perfect adherence', (pa_peak, pa_trough, pa_up, pa_up_peak, pa_lo_peak, pa_lo),
     (244, 113, 1331, 680), 649, 12.6, (328, 195), False, (650, 12.6, 17)),
    ('SC1', (sc1_peak, sc1_trough, sc1_up, sc1_up_peak, sc1_lo_peak, sc1_lo),
     (1426, 129, 2518, 689), 659, 13.08, (1466, 224), False, None),
    ('SC2', (sc2_peak, sc2_trough, sc2_up, sc2_up_peak, sc2_lo_peak, sc2_lo),
     (249, 738, 1336, 1287), 1262, 13.1, (285, 817), True, (1273, 12.5, 23)),
    ('SC3', (sc3_peak, sc3_trough, sc3_up, sc3_up_peak, sc3_lo_peak, sc3_lo),
     (1426, 716, 2518, 1303), 1272, 13.0, (1446, 804), False, None),
    ('SC4', (sc4_peak, sc4_trough, sc4_up, sc4_up_peak, sc4_lo_peak, sc4_lo),
     (245, 1345, 1335, 1918), 1893, 13.14, (315, 1454), True, (1875, 12.5, 21)),
    ('SC5', (sc5_peak, sc5_trough, sc5_up, sc5_up_peak, sc5_lo_peak, sc5_lo),
     (1426, 1352, 2518, 1934), 1905, 12.95, (1469, 1440), False, None),
    ('SC6', (sc6_peak, sc6_trough, sc6_up, sc6_up_peak, sc6_lo_peak, sc6_lo),
     (245, 1961, 1337, 2534), 2508, 12.8, (315, 2076), True, (2522, 12.53, 23)),
]

axes = {}
for name, data, (l, t, r, b), y0, ppu, (tx, ty), top_sp, lab in panels:
    peak, trough, up, up_peak, lo_peak, lo = data
    ax = fig.add_axes(px_rect(l, t, r, b))
    axes[name] = ax
    tt, mean = sawtooth(trough, peak)
    _, upper = sawtooth(up, up_peak)
    _, lower = sawtooth(lo, lo_peak)
    ax.fill_between(tt, lower, upper, color=band_color, lw=0, zorder=1)
    ax.plot(tt, mean, color=line_color, lw=1.5, zorder=3)

    ax.set_xlim(-4.5, 94.5)
    ax.set_ylim((y0 - b) / ppu, (y0 - t) / ppu)
    ax.set_xticks(x_ticks)
    ax.set_xticks([12.5, 37.5, 62.5, 87.5], minor=True)
    ax.set_yticks(y_ticks)
    ax.set_yticks([5, 15, 25, 35], minor=True)
    ax.set_axisbelow(False)
    ax.grid(True, which='both', color='black', alpha=0.06, lw=1.3)
    ax.tick_params(which='minor', length=0)
    ax.tick_params(which='major', length=3.5, width=1.2, color='#666666')
    ax.tick_params(labelbottom=False, labelleft=False)
    for sp in ax.spines.values():
        sp.set_color(spine_color)
        sp.set_linewidth(1.4)
    ax.spines['top'].set_visible(top_sp)
    fig.text(tx / W, 1 - ty / H, name, fontsize=60, ha='left', va='baseline')

    # y tick labels: in the source they sit on their own scale next to each panel
    if lab is not None:
        ly0, lppu, lpad = lab
        lax = fig.add_axes(px_rect(l, t, r, b), sharex=ax)
        lax.set_ylim((ly0 - b) / lppu, (ly0 - t) / lppu)
        lax.set_yticks(y_ticks)
        lax.tick_params(axis='y', length=0, labelsize=34, pad=lpad)
        lax.tick_params(axis='x', length=0, labelbottom=False)
        lax.patch.set_visible(False)
        for sp in lax.spines.values():
            sp.set_visible(False)

# x tick labels, placed under the bottom panel of each column (shifted as in the source)
for name, shift, base in [('SC5', -57, 2018), ('SC6', -63, 2600)]:
    ax = axes[name]
    off = mtransforms.ScaledTranslation(shift / 100, 0, fig.dpi_scale_trans)
    trans = mtransforms.blended_transform_factory(ax.transData + off, fig.transFigure)
    for v in x_ticks:
        ax.text(v, 1 - base / H, str(v), transform=trans, ha='center', va='baseline',
                fontsize=38, clip_on=False)

# axis titles
fig.text(93 / W, 1 - 1357 / H, '\u2006'.join('Concentration (mg)'), rotation=90,
         rotation_mode='anchor', ha='center', va='baseline', fontsize=56,
         fontweight='bold', family=['Liberation Sans', 'DejaVu Sans'])
fig.text(1957 / W, 1 - 2160 / H, '\u200a'.join('Time (days)'), ha='center',
         va='baseline', fontsize=54, fontweight='bold',
         family=['Liberation Sans', 'DejaVu Sans'])

# caption
cap_color = '#7f7f7f'
t1 = fig.text(1508 / W, 1 - 2297 / H, 'Figure 3', fontsize=45, fontweight='bold',
              color=cap_color, ha='left', va='baseline')
fig.add_artist(Annotation('. Mean individual', xy=(1, 0), xycoords=t1,
                          fontsize=45, color=cap_color, ha='left', va='bottom'))
cap_lines = ['predicted concentrations (95% CI)', 'of deferasirox over time for',
             'scenarios of perfect adherence', 'and nonadherence.']
for i, line in enumerate(cap_lines):
    fig.text(1508 / W, 1 - (2374 + 76.7 * i) / H, line, fontsize=45,
             color=cap_color, ha='left', va='baseline')

# outer grey frame of the source image
fig.add_artist(Line2D([13 / W, 1], [1 - 47 / H, 1 - 47 / H], transform=fig.transFigure,
                      color='#d2d2d2', lw=4))
fig.add_artist(Line2D([16 / W, 16 / W], [0, 1 - 45 / H], transform=fig.transFigure,
                      color='#d2d2d2', lw=4))

fig.savefig('out.png', dpi=100)
